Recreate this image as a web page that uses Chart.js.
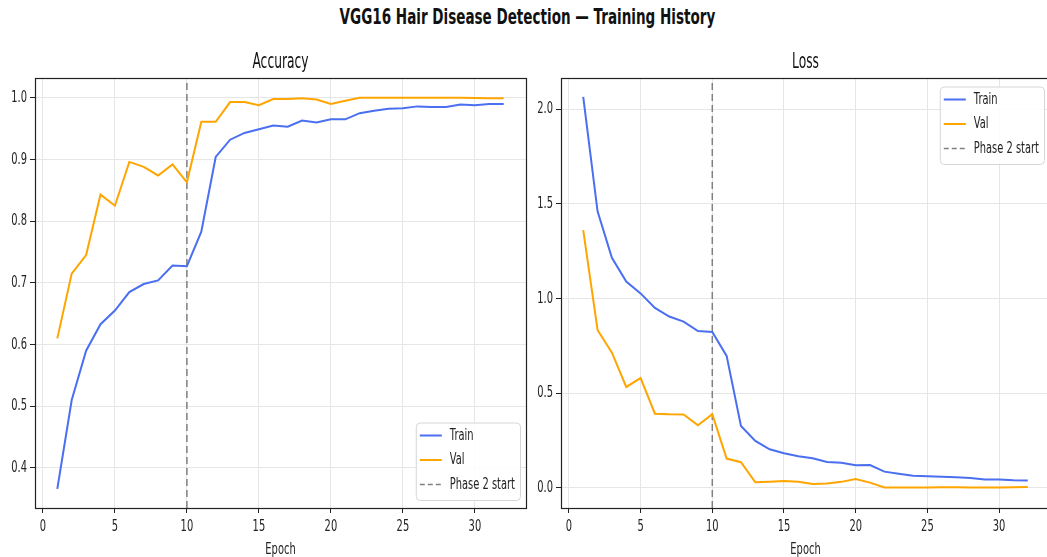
<!DOCTYPE html>
<html>
<head>
<meta charset="utf-8">
<script src="https://cdn.jsdelivr.net/npm/chart.js@4.4.1/dist/chart.umd.min.js"></script>
<style>
  html, body { margin: 0; padding: 0; background: #fff; overflow: hidden; }
  body { width: 1047px; height: 557px; position: relative; }
  #suptitle {
    position: absolute; top: 6px; left: 4px; width: 1047px; text-align: center;
    font: bold 22px/22px "DejaVu Sans", sans-serif; color: #111;
  }
  #suptitle span { display: inline-block; transform: scaleX(0.615); transform-origin: center; white-space: nowrap; }
  .panel { position: absolute; top: 0; }
</style>
</head>
<body>
<div id="suptitle"><span>VGG16 Hair Disease Detection — Training History</span></div>
<div class="panel" style="left:0px"><canvas id="accChart" width="540" height="557"></canvas></div>
<div class="panel" style="left:530px"><canvas id="lossChart" width="521" height="557"></canvas></div>
<script>
const FONT = '"DejaVu Sans", sans-serif';
// the source picture is squeezed sideways, so text is drawn narrower than normal
const SX = 0.6;

// epochs 1..32, phase 2 (fine tuning) starts at epoch 10
const epochs = [1,2,3,4,5,6,7,8,9,10,11,12,13,14,15,16,17,18,19,20,21,22,23,24,25,26,27,28,29,30,31,32];
const phaseStart = 10;

const trainAcc = [0.366,0.510,0.590,0.633,0.655,0.685,0.698,0.704,0.728,0.727,0.783,0.904,0.932,0.943,0.949,0.955,0.953,0.963,0.960,0.965,0.965,0.975,0.979,0.982,0.983,0.986,0.985,0.985,0.989,0.988,0.990,0.990];
const valAcc = [0.610,0.715,0.745,0.843,0.825,0.896,0.888,0.874,0.892,0.863,0.961,0.961,0.993,0.993,0.988,0.998,0.998,0.999,0.997,0.990,0.995,1.000,1.000,1.000,1.000,1.000,1.000,1.000,1.000,0.9995,0.999,0.999];

const trainLoss = [2.065,1.460,1.215,1.089,1.027,0.950,0.905,0.878,0.828,0.823,0.697,0.327,0.248,0.204,0.183,0.167,0.157,0.137,0.133,0.120,0.121,0.086,0.075,0.064,0.062,0.059,0.056,0.052,0.045,0.044,0.040,0.039];
const valLoss = [1.361,0.834,0.714,0.533,0.580,0.392,0.389,0.388,0.331,0.389,0.155,0.136,0.030,0.033,0.037,0.033,0.021,0.023,0.032,0.047,0.028,0.002,0.002,0.002,0.002,0.004,0.003,0.002,0.002,0.002,0.003,0.005];

const accTicks = [0.4,0.5,0.6,0.7,0.8,0.9,1.0];
const lossTicks = [0.0,0.5,1.0,1.5,2.0];
const epochTicks = [0,5,10,15,20,25,30];

const BLUE = '#4a6ff0';
const ORANGE = '#ffa500';
const GREY = '#808080';

function pts(ys) {
  return epochs.map((e, i) => ({x: e, y: ys[i]}));
}

// squeeze every text draw on this canvas horizontally
function squeezeText(canvas) {
  const ctx = canvas.getContext('2d');
  const fill = ctx.fillText;
  ctx.fillText = function (text, x, y, maxWidth) {
    this.save();
    this.translate(x, y);
    this.scale(SX, 1);
    if (maxWidth === undefined) fill.call(this, text, 0, 0);
    else fill.call(this, text, 0, 0, maxWidth / SX);
    this.restore();
  };
  return canvas;
}

// draws all four spines like matplotlib
const spinesPlugin = {
  id: 'spines',
  afterDatasetsDraw(chart) {
    const a = chart.chartArea, ctx = chart.ctx;
    ctx.save();
    ctx.strokeStyle = '#222';
    ctx.lineWidth = 1.2;
    ctx.strokeRect(Math.round(a.left) + 0.5, Math.round(a.top) + 0.5, Math.round(a.right - a.left), Math.round(a.bottom - a.top));
    ctx.restore();
  }
};

// matplotlib style legend box inside the axes
const boxLegendPlugin = {
  id: 'boxLegend',
  afterDraw(chart, args, opts) {
    const ctx = chart.ctx, a = chart.chartArea;
    const items = chart.data.datasets;
    ctx.save();
    ctx.font = '16.5px ' + FONT;
    let tw = 0;
    items.forEach(ds => { tw = Math.max(tw, ctx.measureText(ds.label).width * SX); });
    const rowH = 24.5;
    const w = 4 + 22 + 8 + tw + 5;
    const h = items.length * rowH + 4;
    const x = a.right - 6 - w;
    const y = opts.corner === 'top' ? a.top + 8.5 : a.bottom - 8 - h;
    ctx.beginPath();
    ctx.roundRect(x + 0.5, y + 0.5, w, h, 4);
    ctx.fillStyle = 'rgba(255,255,255,0.85)';
    ctx.fill();
    ctx.strokeStyle = '#d6d6d6';
    ctx.lineWidth = 1;
    ctx.stroke();
    items.forEach((ds, i) => {
      const cy = y + 13 + i * rowH;
      ctx.beginPath();
      ctx.setLineDash(ds.borderDash ? [5, 3] : []);
      ctx.strokeStyle = ds.borderColor;
      ctx.lineWidth = ds.borderWidth;
      ctx.moveTo(x + 4, cy);
      ctx.lineTo(x + 26, cy);
      ctx.stroke();
      ctx.setLineDash([]);
      ctx.fillStyle = '#222';
      ctx.textBaseline = 'middle';
      ctx.textAlign = 'left';
      ctx.fillText(ds.label, x + 34, cy);
    });
    ctx.restore();
  }
};

function makeChart(canvasId, title, train, val, yMin, yMax, yTicks, yWidth, rightPad, legendCorner) {
  return new Chart(squeezeText(document.getElementById(canvasId)), {
    type: 'line',
    data: {
      datasets: [
        { label: 'Train', data: pts(train), borderColor: BLUE, borderWidth: 2, pointRadius: 0, tension: 0 },
        { label: 'Val', data: pts(val), borderColor: ORANGE, borderWidth: 2, pointRadius: 0, tension: 0 },
        { label: 'Phase 2 start', data: [{x: phaseStart, y: yMin}, {x: phaseStart, y: yMax}],
          borderColor: GREY, borderWidth: 1.5, borderDash: [7, 4], pointRadius: 0 },
      ]
    },
    options: {
      responsive: false,
      animation: false,
      devicePixelRatio: 1,
      layout: { padding: { top: 0, right: rightPad, bottom: 0, left: 0 } },
      plugins: {
        legend: { display: false },
        tooltip: { enabled: false },
        title: {
          display: true,
          fullSize: false,
          text: title,
          color: '#111',
          font: { family: FONT, size: 20.5, weight: 'normal', lineHeight: 1.2 },
          padding: { top: 50, bottom: 3.4 }
        },
        boxLegend: { corner: legendCorner }
      },
      scales: {
        x: {
          type: 'linear',
          min: -0.55,
          max: 33.55,
          afterBuildTicks: (s) => { s.ticks = epochTicks.map(v => ({value: v})); },
          afterFit: (s) => { s.height = 49; },
          border: { display: false },
          grid: { color: '#e6e6e6', tickColor: '#222', tickLength: 5 },
          ticks: { color: '#222', font: { family: FONT, size: 16.5 }, padding: 4, maxRotation: 0, autoSkip: false },
          title: { display: true, text: 'Epoch', color: '#222', font: { family: FONT, size: 16.5 }, padding: { top: 0, bottom: -3 } }
        },
        y: {
          min: yMin,
          max: yMax,
          afterBuildTicks: (s) => { s.ticks = yTicks.map(v => ({value: v})); },
          afterFit: (s) => { s.width = yWidth; },
          border: { display: false },
          grid: { color: '#e6e6e6', tickColor: '#222', tickLength: 5 },
          ticks: { color: '#222', font: { family: FONT, size: 16.5 }, padding: 3, autoSkip: false, callback: (v) => Number(v).toFixed(1) }
        }
      }
    },
    plugins: [spinesPlugin, boxLegendPlugin]
  });
}

makeChart('accChart', 'Accuracy', trainAcc, valAcc, 0.335, 1.032, accTicks, 35, 14, 'bottom');
makeChart('lossChart', 'Loss', trainLoss, valLoss, -0.106, 2.164, lossTicks, 31, 1, 'top');
</script>
</body>
</html>
